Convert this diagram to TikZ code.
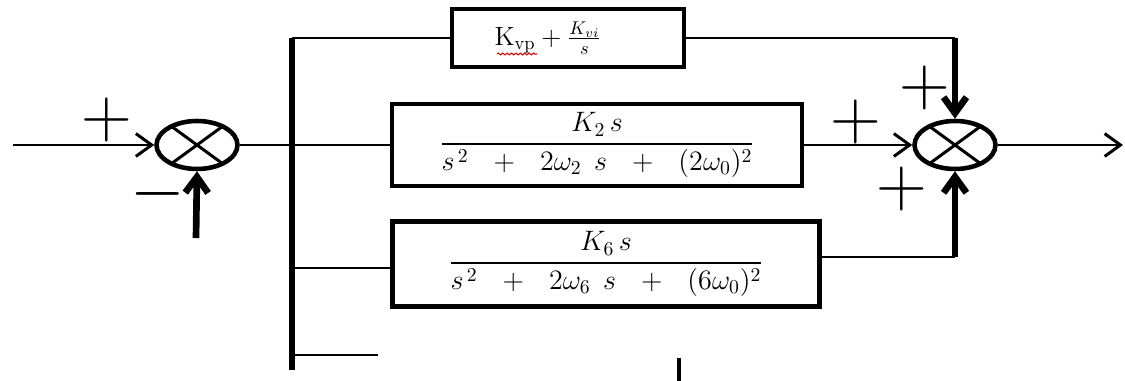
\RequirePackage{fix-cm}
\documentclass[tikz,border=0pt]{standalone}
\usepackage{amsmath}
\usetikzlibrary{arrows.meta,shapes.geometric,decorations.pathmorphing}
\tikzset{
  sumnode/.style={ellipse, draw, line width=2.6pt, minimum width=1.62cm,
    minimum height=0.96cm, inner sep=0pt,
    path picture={\draw[line width=1.7pt]
      ([shift={(-0.85cm,-0.62cm)}]path picture bounding box.center) --
      ([shift={(0.85cm,0.62cm)}]path picture bounding box.center)
      ([shift={(-0.85cm,0.62cm)}]path picture bounding box.center) --
      ([shift={(0.85cm,-0.62cm)}]path picture bounding box.center);}},
  blk/.style={draw, line width=2.6pt, inner sep=0pt,
    font=\fontsize{16}{19}\selectfont},
  sgn/.style={inner sep=0pt, font=\fontsize{40}{40}\selectfont},
  wire/.style={line width=1.7pt},
  fat/.style={line width=3.8pt},
  squiggle/.style={red!85!black, line width=0.6pt, decorate,
    decoration={snake, amplitude=0.5pt, segment length=2.5pt}},
  >={Straight Barb[length=9pt,width=13pt]},
}
\newcommand{\wgap}{\mskip12mu}

\begin{document}
\begin{tikzpicture}[x=0.02cm, y=-0.02cm]
  \useasboundingbox (0,0) rectangle (1125,381);
  % summing junctions
  \node[sumnode] (sumL) at (197,145) {};
  \node[sumnode] (sumR) at (955,145) {};
  % parallel branches
  \node[blk, minimum width=4.64cm, minimum height=1.16cm,
        font=\fontsize{15}{18}\selectfont] (pi) at (568,38)
    {$\mathrm{K_{vp}}+\tfrac{K_{vi}}{s}$\kern0.8cm};
  \node[blk, minimum width=8.2cm, minimum height=1.64cm] (h2) at (597,145)
    {$\dfrac{K_2\,s}{s^{\,2}\wgap+\wgap2\omega_2\mskip8mu s\wgap+\wgap(2\omega_0)^{2}}$};
  \node[blk, minimum width=8.54cm, minimum height=1.7cm] (h6) at (606,264)
    {$\dfrac{K_6\,s}{s^{\,2}\wgap+\wgap2\omega_6\mskip8mu s\wgap+\wgap(6\omega_0)^{2}}$};
  % free ends
  \coordinate (in) at (13,145);
  \coordinate (fb) at (196,238);
  \coordinate (out) at (1123,145);
  \coordinate (busT) at (292,38);
  \coordinate (busB) at (292,370);
  \coordinate (b6) at (292,268);
  \coordinate (b0) at (292,355);
  \coordinate (stub) at (378,355);
  \coordinate (tickT) at (679,358);
  \coordinate (tickB) at (679,381);
  \coordinate (wavyA) at (497,54);
  \coordinate (wavyB) at (537,54);
  % left side
  \draw[wire,->] (in) -- (sumL);
  \draw[fat,->] (fb) -- (sumL.south);
  \draw[wire] (sumL) -- (h2);
  \draw[fat] (busT) -- (busB);
  \draw[wire] (busT) -- (pi.west);
  \draw[wire] (b6) -- (b6 -| h6.west);
  \draw[wire] (b0) -- (stub);
  \draw[line width=2.3pt] (tickT) -- (tickB);
  \draw[squiggle] (wavyA) -- (wavyB);
  % right side
  \draw[wire] (pi.east) -- (pi.east -| sumR);
  \draw[fat,->] (pi.east -| sumR) -- (sumR.north);
  \draw[wire,->] (h2) -- (sumR);
  \draw[wire] ([yshift=0.14cm]h6.east) -- ([yshift=0.14cm]h6.east -| sumR);
  \draw[fat,->] ([yshift=0.14cm]h6.east -| sumR) -- (sumR.south);
  \draw[wire,->] (sumR) -- (out);
  % signs
  \node[sgn] (pIn) at (107,120) {$+$};
  \node[sgn] (mFb) at (158,194) {$-$};
  \node[sgn] (pTop) at (925,88) {$+$};
  \node[sgn] (pMid) at (856,122) {$+$};
  \node[sgn] (pBot) at (902,189) {$+$};
\end{tikzpicture}
\end{document}
